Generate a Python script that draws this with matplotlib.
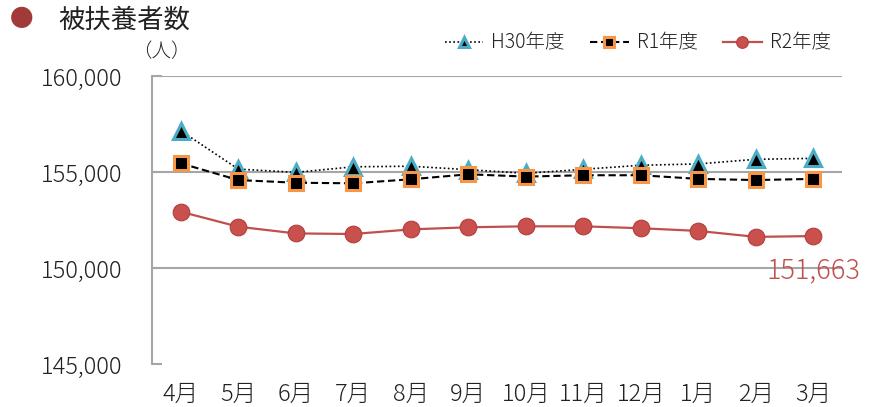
"""Dependants count by month (H30 / R1 / R2) line chart."""
import matplotlib
matplotlib.use("Agg")
import matplotlib.pyplot as plt
from matplotlib.ticker import FuncFormatter

plt.rcParams['font.family'] = ['Noto Sans CJK JP', 'DejaVu Sans']
plt.rcParams['font.weight'] = 'light'

months = ["4月", "5月", "6月", "7月", "8月", "9月", "10月", "11月", "12月", "1月", "2月", "3月"]
h30 = [157150, 155150, 154980, 155270, 155300, 155120, 154930, 155140, 155350, 155420, 155660, 155710]
r1 = [155450, 154580, 154440, 154410, 154620, 154880, 154760, 154830, 154830, 154640, 154580, 154640]
r2 = [152930, 152150, 151800, 151770, 152010, 152120, 152170, 152170, 152070, 151930, 151620, 151663]
series_names = ["H30年度", "R1年度", "R2年度"]
y_ticks = [145000, 150000, 155000, 160000]

RED = "#C0504D"
GRID = "#A6A6A6"
TXT = "#222222"

fig = plt.figure(figsize=(8.79, 4.07), dpi=100)
ax = fig.add_axes([0.1729, 0.1057, 0.7852, 0.7076])

x = range(len(months))
ax.plot(x, h30, linestyle=(0, (1, 1.5)), color="black", lw=1.2,
        marker="^", markersize=11, markerfacecolor="black",
        markeredgecolor="#4BACC6", markeredgewidth=2.2, label=series_names[0])
ax.plot(x, r1, linestyle=(0, (3.5, 1.8)), color="black", lw=1.5,
        marker="s", markersize=10, markerfacecolor="black",
        markeredgecolor="#F79646", markeredgewidth=2.2, label=series_names[1])
ax.plot(x, r2, linestyle="-", color=RED, lw=1.6,
        marker="o", markersize=12, markerfacecolor="#C9504C",
        markeredgecolor="#B0403D", markeredgewidth=0.8, label=series_names[2])

ax.set_xlim(-0.5, len(months) - 0.5)
ax.set_ylim(y_ticks[0], y_ticks[-1])
ax.set_yticks(y_ticks)
ax.yaxis.set_major_formatter(FuncFormatter(lambda v, _: f"{int(v):,}"))
ax.set_xticks(list(x))
ax.set_xticklabels(months)

ax.yaxis.grid(True, color=GRID, lw=1.5)
ax.get_ygridlines()[0].set_visible(False)
ax.set_axisbelow(True)
for side in ("top", "right", "bottom"):
    ax.spines[side].set_visible(False)
ax.spines["left"].set_color(GRID)
ax.spines["left"].set_linewidth(1.5)
ax.tick_params(axis="y", direction="in", length=7, color=GRID, width=1.5,
               labelsize=17, pad=21, labelcolor=TXT)
ax.tick_params(axis="x", length=0, labelsize=17, pad=13, labelcolor=TXT)

# last value label
ax.annotate(f"{r2[-1]:,}", xy=(len(months) - 1, r2[-1]), xytext=(0, -25),
            textcoords="offset points", ha="center", va="center",
            fontsize=19.5, color=RED)

# title and unit
fig.text(0.025, 0.951, "●", fontsize=17, color="#A33A3A", ha="center", va="center")
fig.text(0.066, 0.951, "被扶養者数", fontsize=19, color=TXT, ha="left", va="center",
         fontweight="normal")
fig.text(0.184, 0.872, "（人）", fontsize=14, color=TXT, ha="center", va="center")

fig.legend(loc="center right", bbox_to_anchor=(0.965, 0.894), ncol=3,
           frameon=False, fontsize=14, handlelength=2.0, columnspacing=1.3,
           handletextpad=0.4, markerscale=0.7, labelcolor=TXT)

fig.savefig("out.png", dpi=100)
